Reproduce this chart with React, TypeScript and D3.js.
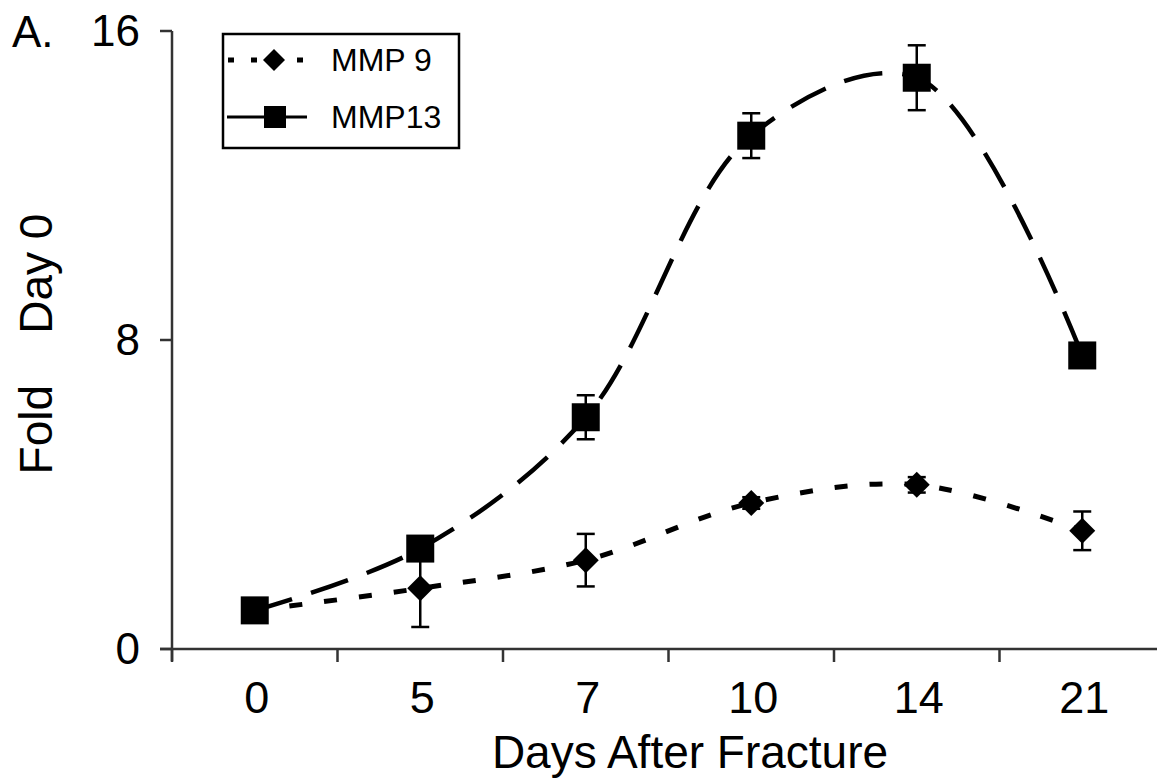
import React, { useRef, useEffect } from 'react';
import * as d3 from 'd3';

const days = ['0', '5', '7', '10', '14', '21'];
const mmp9 = [1.0, 1.57, 2.3, 3.78, 4.25, 3.06];
const mmp9Err = [0.1, 1.0, 0.68, 0.15, 0.2, 0.5];
const mmp13 = [1.0, 2.6, 6.0, 13.29, 14.79, 7.6];
const mmp13Err = [0.1, 0.3, 0.57, 0.58, 0.84, 0.2];
const yTicks = [0, 8, 16];

const FONT = '"Liberation Sans", Arial, Helvetica, sans-serif';

const App = () => {
  const ref = useRef<SVGSVGElement>(null);

  useEffect(() => {
    const svg = d3.select(ref.current);
    svg.selectAll('*').remove();

    const x = d3.scaleBand().domain(days).range([172, 172 + 6 * 165.5]).padding(0);
    const y = d3.scaleLinear().domain([0, 16]).range([649, 31]);
    const cx = (d: string) => (x(d) as number) + x.bandwidth() / 2;

    // axes
    svg.append('line')
      .attr('x1', 160).attr('x2', 1157).attr('y1', y(0)).attr('y2', y(0))
      .attr('stroke', '#333').attr('stroke-width', 2.5);
    svg.append('line')
      .attr('x1', 172).attr('x2', 172).attr('y1', y(16)).attr('y2', y(0) + 12)
      .attr('stroke', '#333').attr('stroke-width', 2.5);

    svg.append('g').selectAll('line')
      .data(yTicks)
      .join('line')
      .attr('x1', 160).attr('x2', 172)
      .attr('y1', d => y(d)).attr('y2', d => y(d))
      .attr('stroke', '#333').attr('stroke-width', 2.5);

    svg.append('g').selectAll('text')
      .data(yTicks)
      .join('text')
      .attr('x', 140).attr('y', d => y(d))
      .attr('dy', '0.35em')
      .attr('text-anchor', 'end')
      .attr('font-family', FONT).attr('font-size', 44)
      .text(d => d);

    // x ticks on band edges
    svg.append('g').selectAll('line')
      .data(days)
      .join('line')
      .attr('x1', d => x(d) as number).attr('x2', d => x(d) as number)
      .attr('y1', y(0)).attr('y2', y(0) + 13)
      .attr('stroke', '#333').attr('stroke-width', 2.5);

    svg.append('g').selectAll('text')
      .data(days)
      .join('text')
      .attr('x', d => cx(d) + 2).attr('y', 713)
      .attr('text-anchor', 'middle')
      .attr('font-family', FONT).attr('font-size', 45)
      .text(d => d);

    svg.append('text')
      .attr('x', 690).attr('y', 768)
      .attr('text-anchor', 'middle')
      .attr('font-family', FONT).attr('font-size', 46)
      .text('Days After Fracture');

    svg.append('text')
      .attr('transform', 'translate(52,344) rotate(-90)')
      .attr('text-anchor', 'middle')
      .attr('font-family', FONT).attr('font-size', 46)
      .style('white-space', 'pre')
      .text('Fold    Day 0');

    svg.append('text')
      .attr('x', 12).attr('y', 47)
      .attr('font-family', FONT).attr('font-size', 44)
      .text('A.');

    // lines
    const line = d3.line<number>()
      .x((d, i) => cx(days[i]))
      .y(d => y(d))
      .curve(d3.curveCatmullRom.alpha(0.5));

    svg.append('path')
      .attr('d', line(mmp9))
      .attr('fill', 'none').attr('stroke', '#000')
      .attr('stroke-width', 5).attr('stroke-dasharray', '13,22');

    svg.append('path')
      .attr('d', line(mmp13))
      .attr('fill', 'none').attr('stroke', '#000')
      .attr('stroke-width', 4.5).attr('stroke-dasharray', '39,20');

    const errBars = (vals: number[], errs: number[]) => {
      const g = svg.append('g').attr('stroke', '#000').attr('stroke-width', 2.5);
      vals.forEach((v, i) => {
        const px = cx(days[i]);
        const top = y(v + errs[i]);
        const bot = y(v - errs[i]);
        g.append('line').attr('x1', px).attr('x2', px).attr('y1', top).attr('y2', bot);
        g.append('line').attr('x1', px - 9).attr('x2', px + 9).attr('y1', top).attr('y2', top);
        g.append('line').attr('x1', px - 9).attr('x2', px + 9).attr('y1', bot).attr('y2', bot);
      });
    };

    errBars(mmp9, mmp9Err);
    svg.append('g').selectAll('path')
      .data(mmp9)
      .join('path')
      .attr('transform', (d, i) => `translate(${cx(days[i])},${y(d)})`)
      .attr('d', 'M0,-13L13,0L0,13L-13,0Z')
      .attr('fill', '#000');

    errBars(mmp13, mmp13Err);
    svg.append('g').selectAll('rect')
      .data(mmp13)
      .join('rect')
      .attr('x', (d, i) => cx(days[i]) - 14)
      .attr('y', d => y(d) - 14)
      .attr('width', 28).attr('height', 28)
      .attr('fill', '#000');

    // legend
    const lg = svg.append('g');
    lg.append('rect')
      .attr('x', 223).attr('y', 34).attr('width', 236).attr('height', 114)
      .attr('fill', '#fff').attr('stroke', '#000').attr('stroke-width', 2.5);

    lg.append('line')
      .attr('x1', 228).attr('x2', 316).attr('y1', 60).attr('y2', 60)
      .attr('stroke', '#000').attr('stroke-width', 5).attr('stroke-dasharray', '6,17');
    lg.append('path')
      .attr('transform', 'translate(274,60)')
      .attr('d', 'M0,-11L11,0L0,11L-11,0Z')
      .attr('fill', '#000');
    lg.append('text')
      .attr('x', 331).attr('y', 60).attr('dy', '0.35em')
      .attr('font-family', FONT).attr('font-size', 32)
      .text('MMP 9');

    lg.append('line')
      .attr('x1', 227).attr('x2', 307).attr('y1', 117).attr('y2', 117)
      .attr('stroke', '#000').attr('stroke-width', 3);
    lg.append('rect')
      .attr('x', 264).attr('y', 106).attr('width', 22).attr('height', 22)
      .attr('fill', '#000');
    lg.append('text')
      .attr('x', 331).attr('y', 117).attr('dy', '0.35em')
      .attr('font-family', FONT).attr('font-size', 32)
      .text('MMP13');
  }, []);

  return (
    <svg ref={ref} width={1157} height={779}
      style={{ position: 'absolute', left: 0, top: 0, background: '#fff' }} />
  );
};

export default App;
